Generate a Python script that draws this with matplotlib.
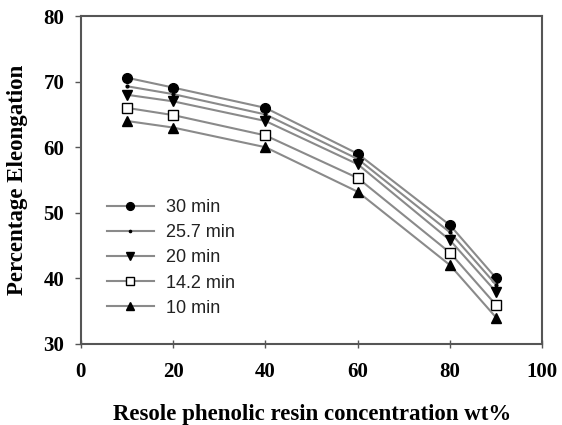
import numpy as np
import matplotlib
matplotlib.use("Agg")
import matplotlib.pyplot as plt

# resin concentration (wt%)
conc = [10, 20, 40, 60, 80, 90]

# percentage elongation for each curing time
t30 = [70.6, 69.1, 66.0, 59.0, 48.1, 40.0]
t257 = [69.3, 68.1, 65.0, 58.2, 47.0, 39.0]
t20 = [68.0, 67.0, 64.0, 57.4, 45.8, 37.9]
t142 = [66.0, 64.9, 61.8, 55.3, 43.9, 35.9]
t10 = [64.0, 63.0, 60.0, 53.2, 42.0, 34.0]

labels = ["30 min", "25.7 min", "20 min", "14.2 min", "10 min"]

fig = plt.figure(figsize=(5.62, 4.25), dpi=100)
ax = fig.add_axes([0.144, 0.191, 0.821, 0.771])

gray = "#8a8a8a"
ax.plot(conc, t30, color=gray, lw=1.5, marker="o", ms=7, mfc="black", mec="black", label=labels[0])
ax.plot(conc, t257, color=gray, lw=1.5, marker=".", ms=4, mfc="black", mec="black", label=labels[1])
ax.plot(conc, t20, color=gray, lw=1.5, marker="v", ms=7, mfc="black", mec="black", label=labels[2])
ax.plot(conc, t142, color=gray, lw=1.5, marker="s", ms=6.5, mfc="white", mec="black", mew=1, label=labels[3])
ax.plot(conc, t10, color=gray, lw=1.5, marker="^", ms=7, mfc="black", mec="black", label=labels[4])

ax.set_xlim(0, 100)
ax.set_ylim(30, 80)
ax.set_xticks([0, 20, 40, 60, 80, 100])
ax.set_yticks([30, 40, 50, 60, 70, 80])

tfont = {"family": "Liberation Serif", "weight": "bold", "size": 15}
lfont = {"family": "Liberation Serif", "weight": "bold", "size": 16.5}
ax.set_xticklabels([str(v) for v in [0, 20, 40, 60, 80, 100]], fontdict=tfont)
ax.set_yticklabels([str(v) for v in [30, 40, 50, 60, 70, 80]], fontdict=tfont)
ax.tick_params(axis="x", direction="inout", length=6, width=1, color="#555555", pad=10)
ax.tick_params(axis="y", direction="out", length=4, width=1, color="#555555", pad=8)

for s in ax.spines.values():
    s.set_color("#555555")
    s.set_linewidth(1.5)

ax.set_xlabel("Resole phenolic resin concentration wt%", fontdict=lfont, labelpad=16)
ax.set_ylabel("Percentage Eleongation", fontdict=lfont, labelpad=11)

leg = ax.legend(loc="center left", bbox_to_anchor=(0.056, 0.262), frameon=False,
                prop={"family": "Liberation Sans", "size": 13},
                handlelength=2.6, handletextpad=0.7, labelspacing=0.45,
                markerscale=0.8, borderpad=0, borderaxespad=0)
for t in leg.get_texts():
    t.set_color("#222222")

fig.savefig("out.png", dpi=100)
